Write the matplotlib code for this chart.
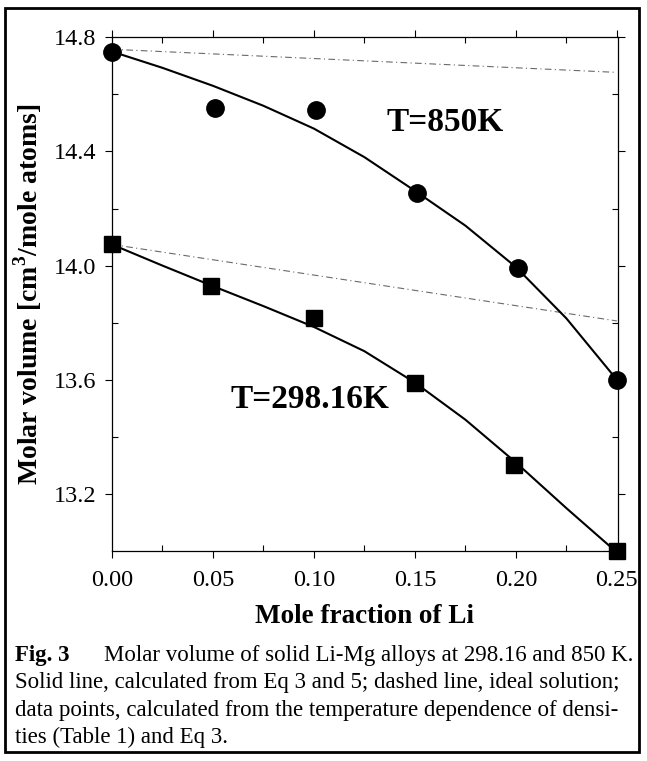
import numpy as np
import matplotlib
matplotlib.use("Agg")
import matplotlib.pyplot as plt
from matplotlib.patches import Rectangle
from matplotlib.ticker import MultipleLocator, FixedLocator

# data points
x_850 = [0.0, 0.051, 0.101, 0.151, 0.201, 0.25]
v_850 = [14.75, 14.553, 14.544, 14.255, 13.99, 13.60]
x_298 = [0.0, 0.049, 0.100, 0.150, 0.199, 0.25]
v_298 = [14.074, 13.93, 13.815, 13.59, 13.30, 13.00]

# solid lines, Eq 3 and 5
xc = [0.0, 0.025, 0.05, 0.075, 0.10, 0.125, 0.15, 0.175, 0.20, 0.225, 0.25]
vc_850 = [14.750, 14.693, 14.630, 14.560, 14.480, 14.380, 14.262, 14.140, 13.995, 13.815, 13.600]
vc_298 = [14.074, 14.000, 13.928, 13.858, 13.785, 13.700, 13.590, 13.460, 13.310, 13.150, 12.995]

# ideal solution (dashed)
x_ideal = [0.0, 0.25]
ideal_850 = [14.758, 14.677]
ideal_298 = [14.074, 13.806]

plt.rcParams["font.family"] = ["Liberation Serif", "DejaVu Serif"]
plt.rcParams["mathtext.fontset"] = "custom"
plt.rcParams["mathtext.rm"] = "Liberation Serif"
plt.rcParams["mathtext.bf"] = "Liberation Serif:bold"

fig = plt.figure(figsize=(6.47, 7.61), dpi=100)
ax = fig.add_axes([0.173, 0.276, 0.782, 0.675])

ax.plot(x_ideal, ideal_850, color="#6a6a6a", lw=0.8, ls=(0, (6, 3, 1, 3)))
ax.plot(x_ideal, ideal_298, color="#6a6a6a", lw=0.8, ls=(0, (6, 3, 1, 3)))
ax.plot(xc, vc_850, color="black", lw=1.5)
ax.plot(xc, vc_298, color="black", lw=1.5)
ax.plot(x_850, v_850, "o", color="black", ms=12.5, clip_on=False)
ax.plot(x_298, v_298, "s", color="black", ms=11, clip_on=False)

ax.text(0.165, 14.50, "T=850K", fontsize=24, fontweight="bold", ha="center", va="center")
ax.text(0.098, 13.53, "T=298.16K", fontsize=24, fontweight="bold", ha="center", va="center")

ax.set_xlim(0, 0.2505)
ax.set_ylim(13.0, 14.8)
ax.xaxis.set_major_locator(MultipleLocator(0.05))
ax.xaxis.set_minor_locator(MultipleLocator(0.025))
ax.yaxis.set_major_locator(FixedLocator([13.2, 13.6, 14.0, 14.4, 14.8]))
ax.yaxis.set_minor_locator(FixedLocator([13.4, 13.8, 14.2, 14.6]))
ax.set_xticklabels([f"{v:.2f}" for v in ax.get_xticks()])
ax.set_yticks([13.2, 13.6, 14.0, 14.4, 14.8])
ax.set_yticklabels(["13.2", "13.6", "14.0", "14.4", "14.8"])
ax.tick_params(axis="both", which="major", direction="out", length=5, width=0.8,
               labelsize=17.5, top=True, right=True)
ax.tick_params(axis="x", which="major", pad=9)
ax.tick_params(axis="y", which="major", pad=6)
ax.tick_params(axis="both", which="minor", direction="in", length=4, width=0.8,
               top=True, right=True)
for s in ax.spines.values():
    s.set_linewidth(0.9)

ax.set_xlabel("Mole fraction of Li", fontsize=19.5, fontweight="bold", labelpad=9)
ax.set_ylabel(r"Molar volume [cm$^\mathbf{3}$/mole atoms]", fontsize=20,
              fontweight="bold", labelpad=7)

# caption
cap_size = 16.5
y0 = 1 - 661 / 761
dy = 27.3 / 761
fig.text(0.023, y0, "Fig. 3", fontsize=cap_size, fontweight="bold", va="baseline")
fig.text(0.161, y0, "Molar volume of solid Li-Mg alloys at 298.16 and 850 K.",
         fontsize=cap_size, va="baseline")
fig.text(0.023, y0 - dy, "Solid line, calculated from Eq 3 and 5; dashed line, ideal solution;",
         fontsize=cap_size, va="baseline")
fig.text(0.023, y0 - 2 * dy, "data points, calculated from the temperature dependence of densi-",
         fontsize=cap_size, va="baseline")
fig.text(0.023, y0 - 3 * dy, "ties (Table 1) and Eq 3.", fontsize=cap_size, va="baseline")

# outer frame
fig.patches.append(Rectangle((0.008, 0.012), 0.98, 0.978, transform=fig.transFigure,
                             fill=False, ec="black", lw=2.0))

fig.savefig("out.png", dpi=100)
